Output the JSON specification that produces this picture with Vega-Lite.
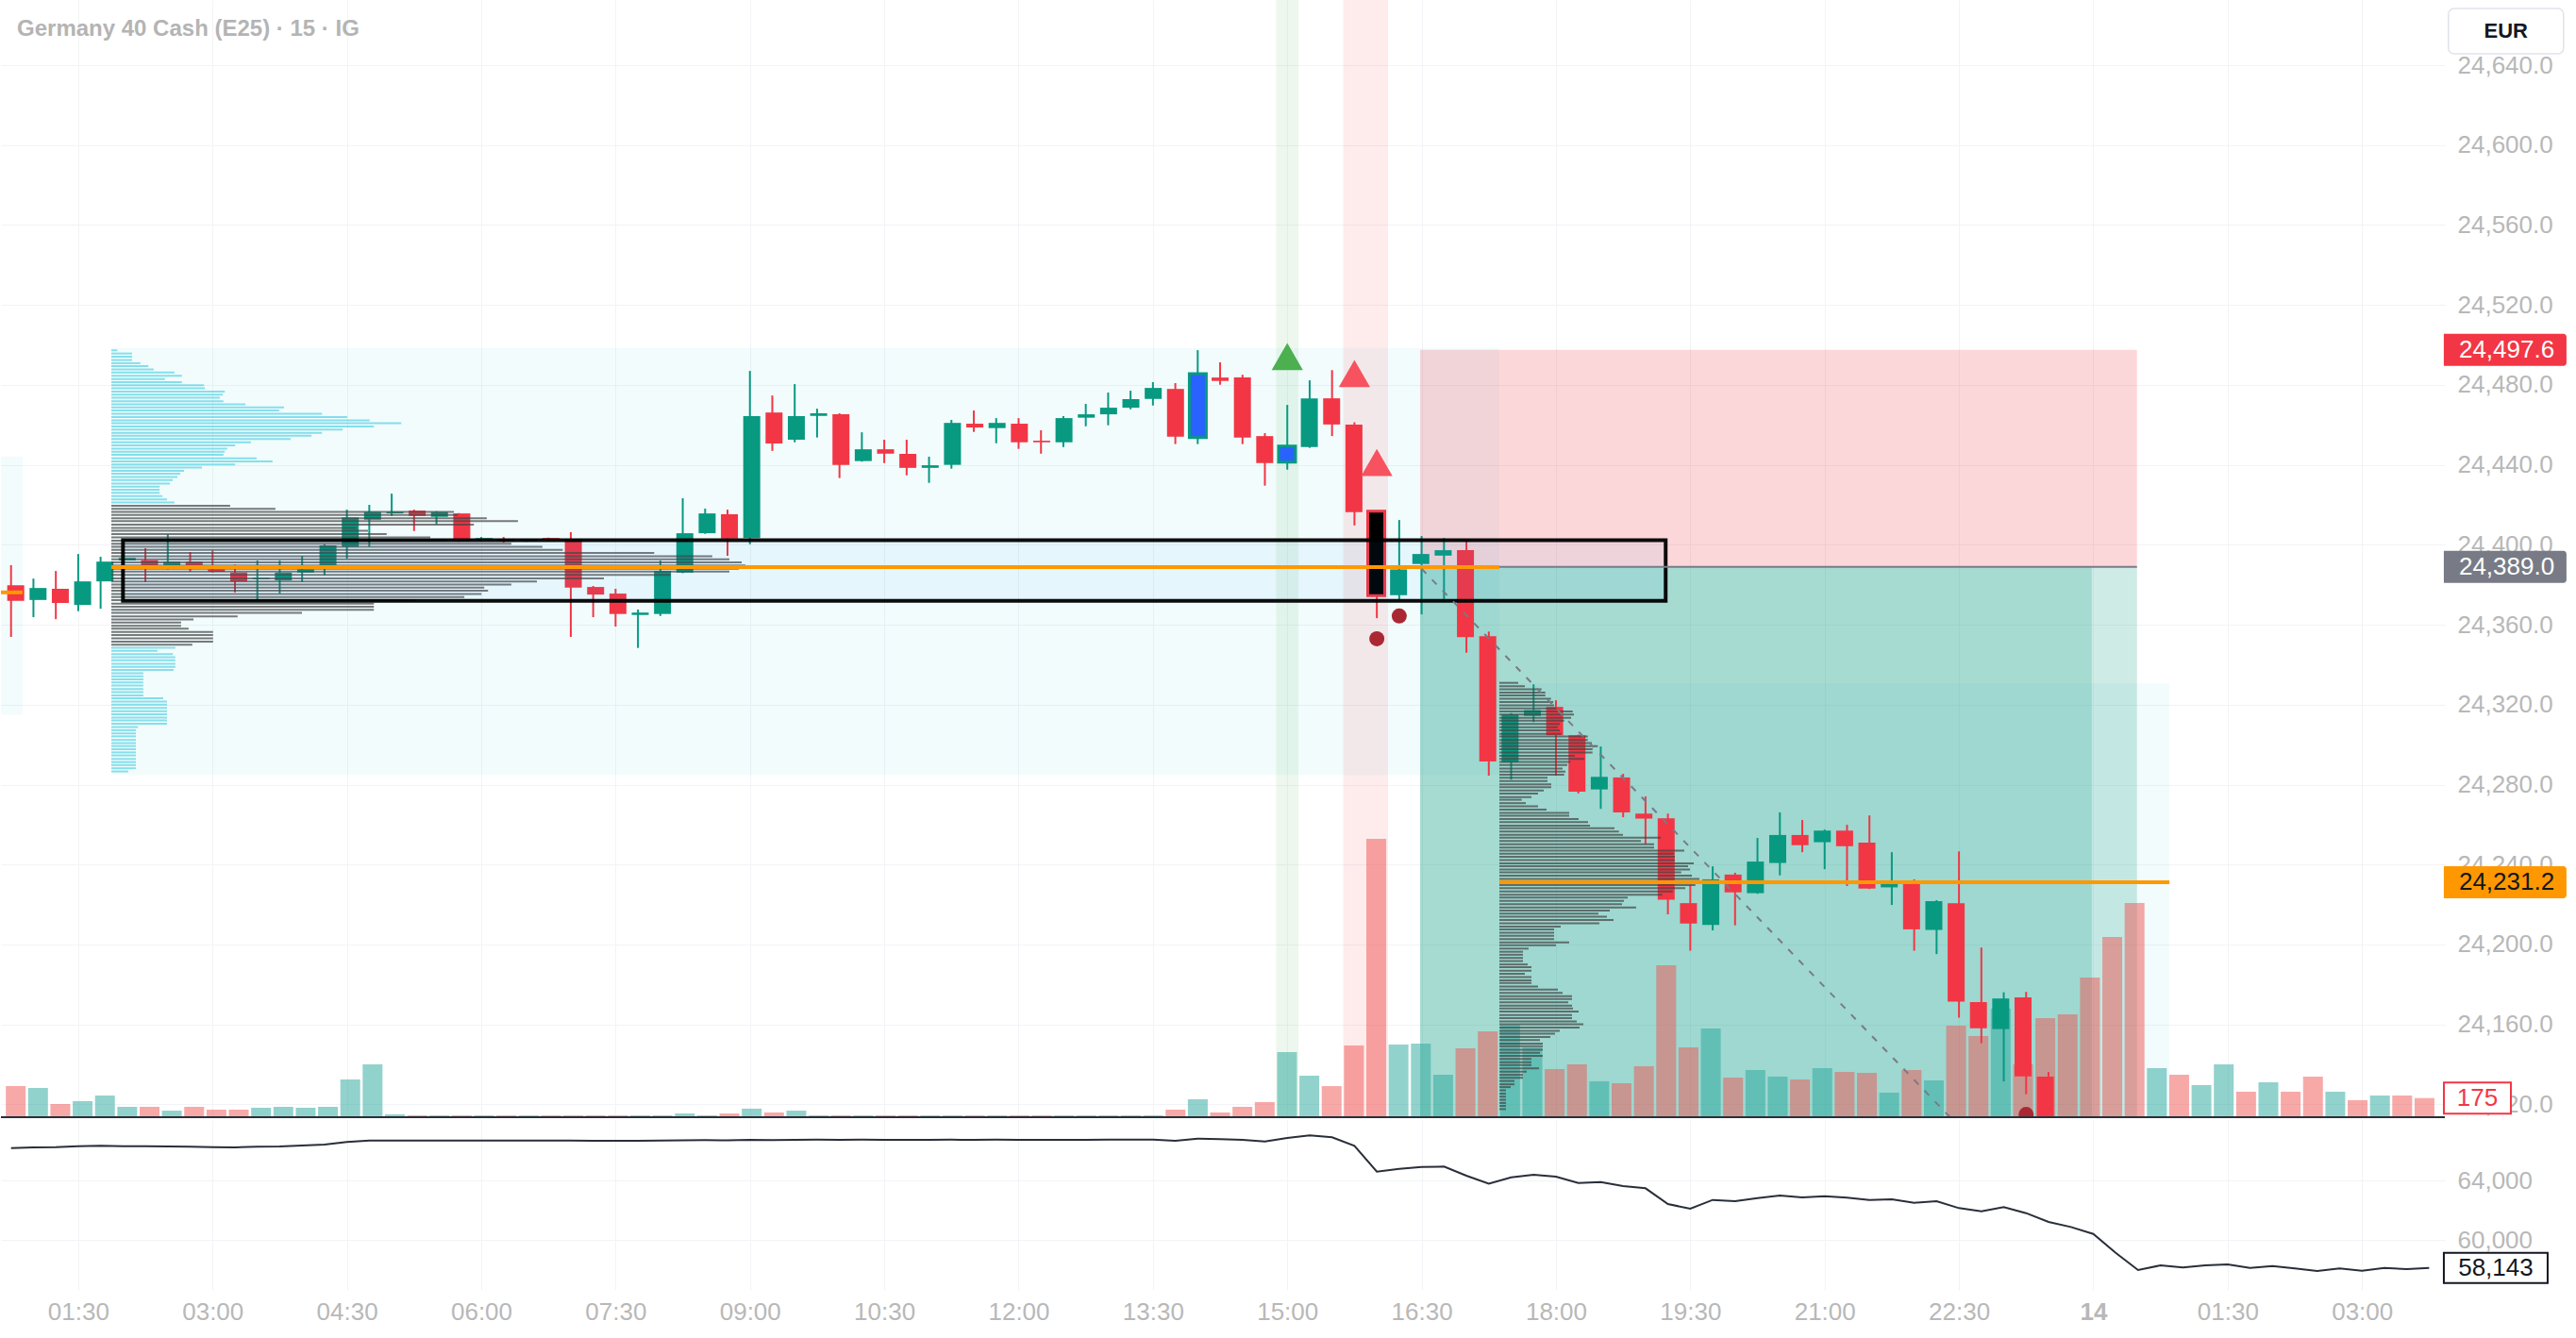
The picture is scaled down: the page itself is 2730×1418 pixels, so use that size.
{
"$schema":"https://vega.github.io/schema/vega-lite/v6.json",
"padding":0,
"background":"#ffffff",
"spacing":2,
"config":{"view":{"stroke":null},"axis":{"labelFont":"Liberation Sans","labelFontSize":26,"labelColor":"#b8b8b8","ticks":false,"domain":false,"gridColor":"#f2f3f6","labelFlush":false}},
"datasets":{
"bars":[
{"t":"2025-06-13T00:45","o":24379.8,"h":24389.8,"l":24353.9,"c":24372.0,"v":284,"dir":"down","ind":66170},
{"t":"2025-06-13T01:00","o":24372.4,"h":24383.1,"l":24363.8,"c":24378.4,"v":267,"dir":"up","ind":66213},
{"t":"2025-06-13T01:15","o":24378.0,"h":24386.9,"l":24362.8,"c":24370.9,"v":121,"dir":"down","ind":66234},
{"t":"2025-06-13T01:30","o":24369.9,"h":24395.4,"l":24366.8,"c":24381.7,"v":147,"dir":"up","ind":66297},
{"t":"2025-06-13T01:45","o":24381.7,"h":24394.0,"l":24368.0,"c":24391.6,"v":198,"dir":"up","ind":66318},
{"t":"2025-06-13T02:00","o":24392.2,"h":24396.4,"l":24381.4,"c":24393.4,"v":95,"dir":"up","ind":66297},
{"t":"2025-06-13T02:15","o":24392.3,"h":24398.3,"l":24381.4,"c":24389.8,"v":95,"dir":"down","ind":66297},
{"t":"2025-06-13T02:30","o":24389.8,"h":24405.2,"l":24387.7,"c":24391.6,"v":60,"dir":"up","ind":66276},
{"t":"2025-06-13T02:45","o":24391.6,"h":24396.4,"l":24386.5,"c":24389.8,"v":95,"dir":"down","ind":66255},
{"t":"2025-06-13T03:00","o":24387.7,"h":24397.2,"l":24386.1,"c":24386.5,"v":69,"dir":"down","ind":66234},
{"t":"2025-06-13T03:15","o":24386.1,"h":24390.1,"l":24376.2,"c":24381.7,"v":69,"dir":"down","ind":66213},
{"t":"2025-06-13T03:30","o":24382.8,"h":24392.1,"l":24372.8,"c":24383.5,"v":86,"dir":"up","ind":66255},
{"t":"2025-06-13T03:45","o":24382.2,"h":24392.1,"l":24375.6,"c":24386.1,"v":95,"dir":"up","ind":66276},
{"t":"2025-06-13T04:00","o":24386.1,"h":24394.3,"l":24381.4,"c":24387.7,"v":86,"dir":"up","ind":66339},
{"t":"2025-06-13T04:15","o":24389.8,"h":24400.3,"l":24384.9,"c":24399.7,"v":95,"dir":"up","ind":66402},
{"t":"2025-06-13T04:30","o":24399.0,"h":24417.6,"l":24393.1,"c":24413.7,"v":345,"dir":"up","ind":66571},
{"t":"2025-06-13T04:45","o":24412.6,"h":24420.0,"l":24399.0,"c":24416.5,"v":483,"dir":"up","ind":66676},
{"t":"2025-06-13T05:00","o":24415.7,"h":24425.6,"l":24414.5,"c":24416.5,"v":26,"dir":"up","ind":66676},
{"t":"2025-06-13T05:15","o":24417.1,"h":24417.6,"l":24406.9,"c":24414.5,"v":17,"dir":"down","ind":66670},
{"t":"2025-06-13T05:30","o":24414.0,"h":24416.8,"l":24410.2,"c":24416.4,"v":17,"dir":"up","ind":66676},
{"t":"2025-06-13T05:45","o":24415.7,"h":24415.9,"l":24401.5,"c":24401.6,"v":17,"dir":"down","ind":66670},
{"t":"2025-06-13T06:00","o":24402.7,"h":24403.9,"l":24401.9,"c":24403.4,"v":17,"dir":"up","ind":66676},
{"t":"2025-06-13T06:15","o":24403.0,"h":24403.9,"l":24401.1,"c":24401.7,"v":17,"dir":"down","ind":66670},
{"t":"2025-06-13T06:30","o":24401.7,"h":24403.0,"l":24401.5,"c":24403.0,"v":17,"dir":"up","ind":66676},
{"t":"2025-06-13T06:45","o":24403.4,"h":24403.6,"l":24401.6,"c":24402.5,"v":17,"dir":"down","ind":66670},
{"t":"2025-06-13T07:00","o":24403.0,"h":24406.3,"l":24353.9,"c":24378.6,"v":17,"dir":"down","ind":66664},
{"t":"2025-06-13T07:15","o":24378.9,"h":24379.4,"l":24363.8,"c":24375.1,"v":17,"dir":"down","ind":66660},
{"t":"2025-06-13T07:30","o":24375.6,"h":24378.0,"l":24359.1,"c":24365.4,"v":17,"dir":"down","ind":66656},
{"t":"2025-06-13T07:45","o":24364.9,"h":24367.6,"l":24348.4,"c":24366.1,"v":17,"dir":"up","ind":66662},
{"t":"2025-06-13T08:00","o":24365.4,"h":24392.1,"l":24364.4,"c":24386.9,"v":17,"dir":"up","ind":66668},
{"t":"2025-06-13T08:15","o":24386.1,"h":24423.3,"l":24385.8,"c":24405.8,"v":34,"dir":"up","ind":66690},
{"t":"2025-06-13T08:30","o":24405.8,"h":24418.1,"l":24405.5,"c":24415.7,"v":17,"dir":"up","ind":66700},
{"t":"2025-06-13T08:45","o":24415.3,"h":24417.6,"l":24394.5,"c":24403.1,"v":34,"dir":"down","ind":66680},
{"t":"2025-06-13T09:00","o":24403.4,"h":24487.0,"l":24400.3,"c":24464.4,"v":78,"dir":"up","ind":66720},
{"t":"2025-06-13T09:15","o":24466.2,"h":24474.7,"l":24447.0,"c":24450.7,"v":43,"dir":"down","ind":66700},
{"t":"2025-06-13T09:30","o":24452.6,"h":24480.4,"l":24451.3,"c":24464.4,"v":60,"dir":"up","ind":66720},
{"t":"2025-06-13T09:45","o":24464.5,"h":24468.1,"l":24453.7,"c":24465.8,"v":17,"dir":"up","ind":66726},
{"t":"2025-06-13T10:00","o":24465.3,"h":24465.8,"l":24433.4,"c":24440.0,"v":17,"dir":"down","ind":66720},
{"t":"2025-06-13T10:15","o":24441.9,"h":24456.3,"l":24441.6,"c":24447.8,"v":17,"dir":"up","ind":66726},
{"t":"2025-06-13T10:30","o":24447.8,"h":24452.6,"l":24440.9,"c":24445.6,"v":17,"dir":"down","ind":66720},
{"t":"2025-06-13T10:45","o":24445.5,"h":24452.6,"l":24434.8,"c":24438.5,"v":17,"dir":"down","ind":66714},
{"t":"2025-06-13T11:00","o":24438.5,"h":24444.1,"l":24431.0,"c":24439.8,"v":17,"dir":"up","ind":66720},
{"t":"2025-06-13T11:15","o":24440.0,"h":24462.5,"l":24438.1,"c":24461.0,"v":17,"dir":"up","ind":66726},
{"t":"2025-06-13T11:30","o":24460.6,"h":24467.2,"l":24456.5,"c":24458.7,"v":17,"dir":"down","ind":66720},
{"t":"2025-06-13T11:45","o":24458.4,"h":24463.4,"l":24450.8,"c":24461.0,"v":17,"dir":"up","ind":66726},
{"t":"2025-06-13T12:00","o":24460.6,"h":24463.4,"l":24448.0,"c":24451.3,"v":17,"dir":"down","ind":66720},
{"t":"2025-06-13T12:15","o":24452.1,"h":24457.3,"l":24445.6,"c":24451.3,"v":17,"dir":"down","ind":66714},
{"t":"2025-06-13T12:30","o":24451.3,"h":24464.4,"l":24448.9,"c":24463.4,"v":17,"dir":"up","ind":66720},
{"t":"2025-06-13T12:45","o":24463.6,"h":24470.5,"l":24459.3,"c":24465.3,"v":17,"dir":"up","ind":66724},
{"t":"2025-06-13T13:00","o":24465.3,"h":24476.2,"l":24459.8,"c":24468.6,"v":17,"dir":"up","ind":66728},
{"t":"2025-06-13T13:15","o":24468.6,"h":24477.1,"l":24467.8,"c":24472.9,"v":17,"dir":"up","ind":66732},
{"t":"2025-06-13T13:30","o":24473.0,"h":24481.4,"l":24469.7,"c":24478.5,"v":17,"dir":"up","ind":66736},
{"t":"2025-06-13T13:45","o":24478.0,"h":24480.9,"l":24450.4,"c":24454.1,"v":69,"dir":"down","ind":66655},
{"t":"2025-06-13T14:00","o":24453.7,"h":24497.4,"l":24450.4,"c":24485.6,"v":164,"dir":"up","hl":"buy","ind":66803},
{"t":"2025-06-13T14:15","o":24483.7,"h":24491.3,"l":24480.1,"c":24482.0,"v":43,"dir":"down","ind":66761},
{"t":"2025-06-13T14:30","o":24483.7,"h":24485.1,"l":24450.4,"c":24453.7,"v":95,"dir":"down","ind":66719},
{"t":"2025-06-13T14:45","o":24454.4,"h":24455.9,"l":24429.6,"c":24440.9,"v":138,"dir":"down","ind":66613},
{"t":"2025-06-13T15:00","o":24441.4,"h":24470.0,"l":24437.6,"c":24449.4,"v":595,"dir":"up","hl":"buy","ind":66845},
{"t":"2025-06-13T15:15","o":24448.9,"h":24482.3,"l":24448.5,"c":24473.3,"v":379,"dir":"up","ind":67013},
{"t":"2025-06-13T15:30","o":24473.3,"h":24487.4,"l":24454.4,"c":24460.2,"v":284,"dir":"down","ind":66887},
{"t":"2025-06-13T15:45","o":24460.1,"h":24461.3,"l":24409.7,"c":24416.3,"v":655,"dir":"down","ind":66318},
{"t":"2025-06-13T16:00","o":24416.8,"h":24417.2,"l":24363.3,"c":24374.6,"v":2543,"dir":"down","hl":"sell","ind":64590},
{"t":"2025-06-13T16:15","o":24374.8,"h":24412.4,"l":24372.7,"c":24387.7,"v":664,"dir":"up","ind":64780},
{"t":"2025-06-13T16:30","o":24390.4,"h":24404.4,"l":24365.2,"c":24395.4,"v":672,"dir":"up","ind":64906},
{"t":"2025-06-13T16:45","o":24394.6,"h":24403.4,"l":24371.5,"c":24397.3,"v":388,"dir":"up","ind":64927},
{"t":"2025-06-13T17:00","o":24397.3,"h":24402.0,"l":24346.0,"c":24353.8,"v":629,"dir":"down","ind":64316},
{"t":"2025-06-13T17:15","o":24354.3,"h":24356.6,"l":24284.5,"c":24291.6,"v":784,"dir":"down","ind":63789},
{"t":"2025-06-13T17:30","o":24291.2,"h":24315.8,"l":24282.5,"c":24315.1,"v":845,"dir":"up","ind":64210},
{"t":"2025-06-13T17:45","o":24314.4,"h":24330.2,"l":24311.3,"c":24317.3,"v":638,"dir":"up","ind":64379},
{"t":"2025-06-13T18:00","o":24318.9,"h":24322.2,"l":24284.5,"c":24304.7,"v":440,"dir":"down","ind":64253},
{"t":"2025-06-13T18:15","o":24304.7,"h":24305.0,"l":24275.6,"c":24276.5,"v":483,"dir":"down","ind":63831},
{"t":"2025-06-13T18:30","o":24277.6,"h":24299.1,"l":24267.9,"c":24283.9,"v":328,"dir":"up","ind":63894},
{"t":"2025-06-13T18:45","o":24283.6,"h":24285.4,"l":24263.7,"c":24266.1,"v":310,"dir":"down","ind":63620},
{"t":"2025-06-13T19:00","o":24265.5,"h":24274.1,"l":24250.3,"c":24263.0,"v":465,"dir":"down","ind":63473},
{"t":"2025-06-13T19:15","o":24263.2,"h":24265.5,"l":24215.1,"c":24222.4,"v":1388,"dir":"down","ind":62419},
{"t":"2025-06-13T19:30","o":24220.7,"h":24229.7,"l":24196.9,"c":24210.5,"v":638,"dir":"down","ind":62103},
{"t":"2025-06-13T19:45","o":24209.8,"h":24239.1,"l":24207.1,"c":24232.6,"v":810,"dir":"up","ind":62693},
{"t":"2025-06-13T20:00","o":24235.0,"h":24235.9,"l":24209.6,"c":24226.1,"v":362,"dir":"down","ind":62609},
{"t":"2025-06-13T20:15","o":24225.7,"h":24253.3,"l":24225.4,"c":24241.5,"v":431,"dir":"up","ind":62820},
{"t":"2025-06-13T20:30","o":24240.8,"h":24266.1,"l":24234.6,"c":24254.8,"v":371,"dir":"up","ind":62988},
{"t":"2025-06-13T20:45","o":24254.8,"h":24262.3,"l":24246.2,"c":24249.7,"v":345,"dir":"down","ind":62862},
{"t":"2025-06-13T21:00","o":24251.2,"h":24257.5,"l":24237.7,"c":24257.0,"v":448,"dir":"up","ind":62946},
{"t":"2025-06-13T21:15","o":24257.0,"h":24259.9,"l":24229.3,"c":24249.2,"v":414,"dir":"down","ind":62840},
{"t":"2025-06-13T21:30","o":24251.0,"h":24264.6,"l":24227.8,"c":24228.0,"v":405,"dir":"down","ind":62693},
{"t":"2025-06-13T21:45","o":24228.6,"h":24246.2,"l":24219.8,"c":24231.9,"v":224,"dir":"up","ind":62735},
{"t":"2025-06-13T22:00","o":24230.4,"h":24232.6,"l":24196.9,"c":24207.6,"v":431,"dir":"down","ind":62503},
{"t":"2025-06-13T22:15","o":24207.3,"h":24222.2,"l":24195.2,"c":24221.7,"v":336,"dir":"up","ind":62609},
{"t":"2025-06-13T22:30","o":24220.7,"h":24246.6,"l":24163.4,"c":24171.4,"v":836,"dir":"down","ind":62145},
{"t":"2025-06-13T22:45","o":24171.2,"h":24198.5,"l":24150.6,"c":24158.1,"v":741,"dir":"down","ind":61935},
{"t":"2025-06-13T23:00","o":24157.7,"h":24176.1,"l":24131.5,"c":24173.0,"v":991,"dir":"up","ind":62208},
{"t":"2025-06-13T23:15","o":24173.6,"h":24176.3,"l":24125.1,"c":24134.0,"v":483,"dir":"down","ind":61808},
{"t":"2025-06-13T23:30","o":24133.9,"h":24136.2,"l":24088.0,"c":24098.0,"v":905,"dir":"down","ind":61218},
{"t":"2025-06-13T23:45","v":939,"dir":"down","ind":60881},
{"t":"2025-06-14T00:00","v":1276,"dir":"down","ind":60418},
{"t":"2025-06-14T00:15","v":1646,"dir":"down","ind":59154},
{"t":"2025-06-14T00:30","v":1957,"dir":"down","ind":57995},
{"t":"2025-06-14T00:45","v":448,"dir":"up","ind":58311},
{"t":"2025-06-14T01:00","v":388,"dir":"down","ind":58164},
{"t":"2025-06-14T01:15","v":293,"dir":"up","ind":58311},
{"t":"2025-06-14T01:30","v":483,"dir":"up","ind":58374},
{"t":"2025-06-14T01:45","v":233,"dir":"down","ind":58143},
{"t":"2025-06-14T02:00","v":319,"dir":"up","ind":58269},
{"t":"2025-06-14T02:15","v":233,"dir":"down","ind":58101},
{"t":"2025-06-14T02:30","v":371,"dir":"down","ind":57932},
{"t":"2025-06-14T02:45","v":233,"dir":"up","ind":58101},
{"t":"2025-06-14T03:00","v":155,"dir":"down","ind":57953},
{"t":"2025-06-14T03:15","v":198,"dir":"up","ind":58143},
{"t":"2025-06-14T03:30","v":198,"dir":"down","ind":58060},
{"t":"2025-06-14T03:45","v":175,"dir":"down","ind":58143}
],
"vpL":[
{"p":24498.2,"v":6.2,"area":"out"},{"p":24496.6,"v":22,"area":"out"},{"p":24495.0,"v":22,"area":"out"},{"p":24493.3,"v":22,"area":"out"},{"p":24491.7,"v":30.8,"area":"out"},{"p":24490.2,"v":39.2,"area":"out"},{"p":24488.6,"v":44.9,"area":"out"},{"p":24487.0,"v":66.9,"area":"out"},{"p":24485.3,"v":74.8,"area":"out"},{"p":24483.7,"v":56.8,"area":"out"},{"p":24482.1,"v":74.8,"area":"out"},{"p":24480.6,"v":98.2,"area":"out"},{"p":24479.0,"v":99.1,"area":"out"},{"p":24477.4,"v":120.2,"area":"out"},{"p":24475.8,"v":118,"area":"out"},{"p":24474.3,"v":114.9,"area":"out"},{"p":24472.5,"v":118.8,"area":"out"},{"p":24470.9,"v":142.2,"area":"out"},{"p":24469.4,"v":183.1,"area":"out"},{"p":24467.8,"v":177.8,"area":"out"},{"p":24466.2,"v":223.2,"area":"out"},{"p":24464.5,"v":250,"area":"out"},{"p":24462.9,"v":273.8,"area":"out"},{"p":24461.4,"v":307.2,"area":"out"},{"p":24459.8,"v":278.2,"area":"out"},{"p":24458.2,"v":245.2,"area":"out"},{"p":24456.6,"v":223.2,"area":"out"},{"p":24455.1,"v":212.1,"area":"out"},{"p":24453.5,"v":190.1,"area":"out"},{"p":24451.8,"v":147.9,"area":"out"},{"p":24450.2,"v":131.2,"area":"out"},{"p":24448.6,"v":122.8,"area":"out"},{"p":24447.0,"v":120.2,"area":"out"},{"p":24445.5,"v":118.8,"area":"out"},{"p":24443.7,"v":154,"area":"out"},{"p":24442.2,"v":170.8,"area":"out"},{"p":24440.6,"v":131.2,"area":"out"},{"p":24439.0,"v":96,"area":"out"},{"p":24437.4,"v":77,"area":"out"},{"p":24435.9,"v":73,"area":"out"},{"p":24434.3,"v":70,"area":"out"},{"p":24432.7,"v":65.1,"area":"out"},{"p":24431.0,"v":62.1,"area":"out"},{"p":24429.4,"v":51.1,"area":"out"},{"p":24427.8,"v":51.1,"area":"out"},{"p":24426.3,"v":51.1,"area":"out"},{"p":24424.7,"v":54.1,"area":"out"},{"p":24423.0,"v":59,"area":"out"},{"p":24421.4,"v":66.9,"area":"out"},
{"p":24419.8,"v":125.9,"area":"va"},{"p":24418.2,"v":173.9,"area":"va"},{"p":24416.7,"v":363.1,"area":"va"},{"p":24415.1,"v":367.1,"area":"va"},{"p":24413.5,"v":397.9,"area":"va"},{"p":24412.0,"v":430.9,"area":"va"},{"p":24410.2,"v":384.2,"area":"va"},{"p":24408.6,"v":260,"area":"va"},{"p":24407.1,"v":272,"area":"va"},{"p":24405.5,"v":291.8,"area":"va"},{"p":24403.8,"v":338,"area":"va"},{"p":24402.2,"v":356,"area":"va"},{"p":24400.6,"v":423.9,"area":"va"},{"p":24399.0,"v":456.9,"area":"va"},{"p":24397.5,"v":478.4,"area":"va"},{"p":24395.9,"v":575.3,"area":"va"},{"p":24394.3,"v":636.9,"area":"va"},{"p":24392.7,"v":655,"area":"va"},{"p":24391.2,"v":668,"area":"va"},{"p":24389.6,"v":672,"area":"va"},{"p":24388.0,"v":665,"area":"va"},{"p":24386.5,"v":655,"area":"va"},{"p":24384.9,"v":592.9,"area":"va"},{"p":24383.1,"v":522,"area":"va"},{"p":24381.6,"v":451,"area":"va"},{"p":24380.0,"v":423.9,"area":"va"},{"p":24378.4,"v":395.2,"area":"va"},{"p":24376.9,"v":399.2,"area":"va"},{"p":24375.3,"v":392.2,"area":"va"},{"p":24373.7,"v":374.1,"area":"va"},{"p":24372.1,"v":322.2,"area":"va"},{"p":24370.4,"v":278.2,"area":"va"},{"p":24368.8,"v":278.2,"area":"va"},{"p":24367.3,"v":278.2,"area":"va"},{"p":24365.7,"v":202,"area":"va"},{"p":24363.9,"v":133.8,"area":"va"},{"p":24362.4,"v":87.1,"area":"va"},{"p":24360.8,"v":73.9,"area":"va"},{"p":24359.2,"v":73.9,"area":"va"},{"p":24357.7,"v":81.9,"area":"va"},{"p":24356.1,"v":107.8,"area":"va"},{"p":24354.5,"v":107.8,"area":"va"},{"p":24352.9,"v":107.8,"area":"va"},{"p":24351.2,"v":107.8,"area":"va"},{"p":24349.6,"v":85.8,"area":"va"},
{"p":24348.1,"v":67.8,"area":"out"},{"p":24346.5,"v":48.9,"area":"out"},{"p":24344.9,"v":65.1,"area":"out"},{"p":24343.3,"v":67.8,"area":"out"},{"p":24341.8,"v":67.8,"area":"out"},{"p":24340.0,"v":67.8,"area":"out"},{"p":24338.5,"v":67.8,"area":"out"},{"p":24336.9,"v":66,"area":"out"},{"p":24335.3,"v":33.9,"area":"out"},{"p":24333.7,"v":33.9,"area":"out"},{"p":24332.2,"v":33.9,"area":"out"},{"p":24330.6,"v":33.9,"area":"out"},{"p":24329.0,"v":33.9,"area":"out"},{"p":24327.3,"v":33.9,"area":"out"},{"p":24325.7,"v":33.9,"area":"out"},{"p":24324.1,"v":33.9,"area":"out"},{"p":24322.6,"v":55,"area":"out"},{"p":24321.0,"v":59,"area":"out"},{"p":24319.4,"v":59,"area":"out"},{"p":24317.7,"v":59,"area":"out"},{"p":24316.1,"v":59,"area":"out"},{"p":24314.5,"v":59,"area":"out"},{"p":24312.9,"v":59,"area":"out"},{"p":24311.4,"v":59,"area":"out"},{"p":24309.8,"v":59,"area":"out"},{"p":24308.1,"v":28.2,"area":"out"},{"p":24306.5,"v":26,"area":"out"},{"p":24304.9,"v":26,"area":"out"},{"p":24303.4,"v":26,"area":"out"},{"p":24301.6,"v":26,"area":"out"},{"p":24300.0,"v":26,"area":"out"},{"p":24298.5,"v":26,"area":"out"},{"p":24296.9,"v":26,"area":"out"},{"p":24295.3,"v":26,"area":"out"},{"p":24293.8,"v":26,"area":"out"},{"p":24292.0,"v":26,"area":"out"},{"p":24290.4,"v":26,"area":"out"},{"p":24288.9,"v":26,"area":"out"},{"p":24287.3,"v":26,"area":"out"},{"p":24285.7,"v":18,"area":"out"}
],
"vpR":[
{"p":24330.4,"v":20},{"p":24328.7,"v":27},{"p":24327.1,"v":44.7},{"p":24325.5,"v":48.7},{"p":24324.0,"v":48.7},{"p":24322.4,"v":54.7},{"p":24320.7,"v":57},{"p":24319.1,"v":58},{"p":24317.5,"v":60.7},{"p":24316.0,"v":77.7},{"p":24314.4,"v":79},{"p":24312.7,"v":76},{"p":24311.3,"v":68.7},{"p":24309.6,"v":64},{"p":24308.0,"v":62},{"p":24306.4,"v":64},{"p":24304.7,"v":65.3},{"p":24303.3,"v":93.7},{"p":24301.6,"v":93.7},{"p":24300.0,"v":98},{"p":24298.5,"v":104.3},{"p":24296.9,"v":98.7},{"p":24295.2,"v":98.7},{"p":24293.6,"v":80},{"p":24292.0,"v":90},{"p":24290.5,"v":75.3},{"p":24288.9,"v":72},{"p":24287.2,"v":67},{"p":24285.6,"v":70},{"p":24284.1,"v":68.7},{"p":24282.5,"v":51},{"p":24280.8,"v":51},{"p":24279.2,"v":55},{"p":24277.8,"v":55},{"p":24276.1,"v":47},{"p":24274.5,"v":41},{"p":24272.8,"v":34},{"p":24271.4,"v":23.7},{"p":24269.7,"v":28},{"p":24268.1,"v":41},{"p":24266.5,"v":50},{"p":24264.8,"v":74},{"p":24263.4,"v":74},{"p":24261.7,"v":84},{"p":24260.1,"v":94},{"p":24258.4,"v":96},{"p":24257.0,"v":122},{"p":24255.4,"v":126.7},{"p":24253.7,"v":131},{"p":24252.3,"v":171},{"p":24250.6,"v":150},{"p":24249.0,"v":164},{"p":24247.3,"v":164},{"p":24245.7,"v":196},{"p":24244.2,"v":185.3},{"p":24242.6,"v":186},{"p":24241.0,"v":186},{"p":24239.3,"v":206},{"p":24237.9,"v":200},{"p":24236.2,"v":202},{"p":24234.8,"v":192.7},{"p":24233.1,"v":204},{"p":24231.5,"v":212},{"p":24229.9,"v":202},{"p":24228.4,"v":207.7},{"p":24226.8,"v":197},{"p":24225.1,"v":183.7},{"p":24223.5,"v":172.7},{"p":24222.0,"v":136},{"p":24220.4,"v":132},{"p":24218.7,"v":130},{"p":24217.1,"v":145},{"p":24215.5,"v":117},{"p":24214.0,"v":105},{"p":24212.4,"v":114},{"p":24210.7,"v":121},{"p":24209.1,"v":106},{"p":24207.4,"v":65},{"p":24206.0,"v":58},{"p":24204.3,"v":58},{"p":24202.7,"v":58},{"p":24201.1,"v":58},{"p":24199.4,"v":74},{"p":24198.0,"v":60},{"p":24196.3,"v":31},{"p":24194.7,"v":25},{"p":24193.2,"v":25},{"p":24191.6,"v":25},{"p":24190.0,"v":25},{"p":24188.3,"v":30},{"p":24186.9,"v":34},{"p":24185.2,"v":34},{"p":24183.6,"v":27},{"p":24181.9,"v":34},{"p":24180.3,"v":34},{"p":24178.9,"v":34},{"p":24177.2,"v":41},{"p":24175.6,"v":62},{"p":24173.9,"v":67},{"p":24172.3,"v":77},{"p":24170.8,"v":77},{"p":24169.2,"v":73},{"p":24167.5,"v":77},{"p":24166.1,"v":78},{"p":24164.5,"v":84},{"p":24162.8,"v":77},{"p":24161.2,"v":77},{"p":24159.5,"v":82},{"p":24158.1,"v":89},{"p":24156.5,"v":85},{"p":24154.8,"v":64},{"p":24153.3,"v":59},{"p":24151.7,"v":54},{"p":24150.1,"v":43},{"p":24148.4,"v":46},{"p":24147.0,"v":46},{"p":24145.3,"v":46},{"p":24143.7,"v":43},{"p":24142.2,"v":46},{"p":24140.6,"v":34},{"p":24139.0,"v":34},{"p":24137.5,"v":34},{"p":24135.9,"v":42},{"p":24134.2,"v":29},{"p":24132.6,"v":25},{"p":24131.1,"v":25},{"p":24129.5,"v":16},{"p":24127.8,"v":16},{"p":24126.4,"v":12},{"p":24124.8,"v":7},{"p":24123.1,"v":7},{"p":24121.6,"v":7},{"p":24120.0,"v":7},{"p":24118.4,"v":7},{"p":24116.9,"v":7},{"p":24115.3,"v":7}
],
"zones":[
{"kind":"profile","t1":"2025-06-13T00:38:14","t2":"2025-06-13T00:52:45","p1":24315.1,"p2":24444.1},
{"kind":"profile","t1":"2025-06-13T01:52:12","t2":"2025-06-13T17:22:00","p1":24284.9,"p2":24498.5},
{"kind":"profile","t1":"2025-06-13T17:22:00","t2":"2025-06-14T00:51:00","p1":24113.6,"p2":24330.7},
{"kind":"buyband","t1":"2025-06-13T14:52:30","t2":"2025-06-13T15:07:30","p1":24113.6,"p2":24672.6},
{"kind":"sellband","t1":"2025-06-13T15:37:30","t2":"2025-06-13T16:07:30","p1":24113.6,"p2":24672.6},
{"kind":"stop","t1":"2025-06-13T16:29:00","t2":"2025-06-14T00:29:15","p1":24389.0,"p2":24497.6},
{"kind":"target","t1":"2025-06-13T16:29:00","t2":"2025-06-14T00:29:15","p1":24050,"p2":24389.0},
{"kind":"target","t1":"2025-06-13T16:29:00","t2":"2025-06-13T23:59:00","p1":24050,"p2":24389.0}
],
"lines":[
{"kind":"entry","t1":"2025-06-13T16:29:00","t2":"2025-06-14T00:29:15","p":24389.0},
{"kind":"poc","t1":"2025-06-13T00:38:14","t2":"2025-06-13T00:52:45","p":24376.2},
{"kind":"poc","t1":"2025-06-13T01:52:12","t2":"2025-06-13T17:22:00","p":24388.8},
{"kind":"poc","t1":"2025-06-13T17:22:00","t2":"2025-06-14T00:51:00","p":24231.2}
],
"boxes":[{"t1":"2025-06-13T02:00:00","t2":"2025-06-13T19:13:30","p1":24372.0,"p2":24402.3}],
"trend":[{"t":"2025-06-13T16:30:00","p":24388},{"t":"2025-06-13T22:30:00","p":24109}],
"signals":[{"t":"2025-06-13T15:00:00","p":24494.2,"kind":"buy"},{"t":"2025-06-13T15:45:00","p":24485.7,"kind":"sell"},{"t":"2025-06-13T16:00:00","p":24441.2,"kind":"sell"}],
"dots":[{"t":"2025-06-13T16:00:00","p":24353.0},{"t":"2025-06-13T16:15:00","p":24364.4},{"t":"2025-06-13T23:15:00","p":24115.0}],
"levels":[{"name":"stop","p":24497.6},{"name":"entry","p":24389.0},{"name":"poc","p":24231.2}],
"currency":[{"label":"EUR"}],
"heading":[{"label":"Germany 40 Cash (E25) · 15 · IG"}]
},
"vconcat":[
{
"width":2590,"height":1184,
"resolve":{"scale":{"x":"independent","y":"independent"}},
"layer":[
{"data":{"name":"zones"},"mark":{"type":"rect","clip":true},
"encoding":{
"x":{"field":"t1","type":"temporal","scale":{"domain":[{"year":2025,"month":6,"date":13,"hours":0,"minutes":38,"seconds":14},{"year":2025,"month":6,"date":14,"hours":3,"minutes":55,"seconds":30}],"nice":false},
"axis":{"grid":true,"labels":false,"title":null,"values":[{"year":2025,"month":6,"date":13,"hours":1,"minutes":30},{"year":2025,"month":6,"date":13,"hours":3,"minutes":0},{"year":2025,"month":6,"date":13,"hours":4,"minutes":30},{"year":2025,"month":6,"date":13,"hours":6,"minutes":0},{"year":2025,"month":6,"date":13,"hours":7,"minutes":30},{"year":2025,"month":6,"date":13,"hours":9,"minutes":0},{"year":2025,"month":6,"date":13,"hours":10,"minutes":30},{"year":2025,"month":6,"date":13,"hours":12,"minutes":0},{"year":2025,"month":6,"date":13,"hours":13,"minutes":30},{"year":2025,"month":6,"date":13,"hours":15,"minutes":0},{"year":2025,"month":6,"date":13,"hours":16,"minutes":30},{"year":2025,"month":6,"date":13,"hours":18,"minutes":0},{"year":2025,"month":6,"date":13,"hours":19,"minutes":30},{"year":2025,"month":6,"date":13,"hours":21,"minutes":0},{"year":2025,"month":6,"date":13,"hours":22,"minutes":30},{"year":2025,"month":6,"date":14,"hours":0,"minutes":0},{"year":2025,"month":6,"date":14,"hours":1,"minutes":30},{"year":2025,"month":6,"date":14,"hours":3,"minutes":0}]}},
"x2":{"field":"t2"},
"y":{"field":"p1","type":"quantitative","scale":{"domain":[24113.6,24672.6],"nice":false,"zero":false},"axis":null},
"y2":{"field":"p2"},
"color":{"condition":[{"test":"datum.kind==='profile'","value":"rgba(0,188,212,0.05)"},{"test":"datum.kind==='buyband'","value":"rgba(76,175,80,0.1)"},{"test":"datum.kind==='sellband'","value":"rgba(242,54,69,0.1)"},{"test":"datum.kind==='stop'","value":"rgba(242,54,69,0.2)"}],"value":"rgba(8,153,129,0.2)"}
}},
{"data":{"name":"bars"},"mark":{"type":"bar","width":21,"opacity":0.5},
"encoding":{
"x":{"field":"t","type":"temporal","scale":{"domain":[{"year":2025,"month":6,"date":13,"hours":0,"minutes":38,"seconds":14},{"year":2025,"month":6,"date":14,"hours":3,"minutes":55,"seconds":30}],"nice":false},"axis":null},
"y":{"field":"v","type":"quantitative","scale":{"domain":[0,10207],"nice":false},"axis":null,"stack":null},
"color":{"condition":{"test":"datum.dir==='up'","value":"#26a69a"},"value":"#ef5350"}
}},
{"data":{"name":"bars"},"transform":[{"filter":"isValid(datum.o)"}],"mark":{"type":"rule","strokeWidth":2,"clip":true},
"encoding":{
"x":{"field":"t","type":"temporal","scale":{"domain":[{"year":2025,"month":6,"date":13,"hours":0,"minutes":38,"seconds":14},{"year":2025,"month":6,"date":14,"hours":3,"minutes":55,"seconds":30}],"nice":false},"axis":null},
"y":{"field":"l","type":"quantitative","scale":{"domain":[24113.6,24672.6],"nice":false,"zero":false},
"axis":{"orient":"right","title":null,"grid":true,"labelPadding":13,"format":",.1f","values":[24120,24160,24200,24240,24280,24320,24360,24400,24440,24480,24520,24560,24600,24640]}},
"y2":{"field":"h"},
"color":{"condition":[{"test":"datum.hl==='sell'","value":"#f23645"},{"test":"datum.dir==='up'","value":"#089981"}],"value":"#f23645"}
}},
{"data":{"name":"bars"},"transform":[{"filter":"isValid(datum.o)"}],"mark":{"type":"bar","width":18,"clip":true,"strokeWidth":3},
"encoding":{
"x":{"field":"t","type":"temporal","scale":{"domain":[{"year":2025,"month":6,"date":13,"hours":0,"minutes":38,"seconds":14},{"year":2025,"month":6,"date":14,"hours":3,"minutes":55,"seconds":30}],"nice":false},"axis":null},
"y":{"field":"o","type":"quantitative","scale":{"domain":[24113.6,24672.6],"nice":false,"zero":false},"axis":null},
"y2":{"field":"c"},
"fill":{"condition":[{"test":"datum.hl==='buy'","value":"#2962ff"},{"test":"datum.hl==='sell'","value":"#000000"},{"test":"datum.dir==='up'","value":"#089981"}],"value":"#f23645"},
"stroke":{"condition":[{"test":"datum.hl==='buy'","value":"#089981"},{"test":"datum.hl==='sell'","value":"#f23645"}],"value":"transparent"}
}},
{"data":{"name":"vpL"},"mark":{"type":"bar","orient":"horizontal","height":2},
"encoding":{
"x":{"field":"v","type":"quantitative","scale":{"domain":[-117,2473],"nice":false,"zero":false},"axis":null,"stack":null},
"y":{"field":"p","type":"quantitative","scale":{"domain":[24113.6,24672.6],"nice":false,"zero":false},"axis":null},
"color":{"condition":{"test":"datum.area==='va'","value":"rgba(66,66,66,0.7)"},"value":"rgba(0,188,212,0.45)"}
}},
{"data":{"name":"vpR"},"mark":{"type":"bar","orient":"horizontal","height":2,"color":"rgba(66,66,66,0.7)","clip":true},
"encoding":{
"x":{"field":"v","type":"quantitative","scale":{"domain":[-1588,1002],"nice":false,"zero":false},"axis":null,"stack":null},
"y":{"field":"p","type":"quantitative","scale":{"domain":[24113.6,24672.6],"nice":false,"zero":false},"axis":null}
}},
{"data":{"name":"boxes"},"mark":{"type":"rect","fill":"rgba(33,150,243,0.06)","stroke":"#000000","strokeOpacity":0.95,"strokeWidth":4},
"encoding":{
"x":{"field":"t1","type":"temporal","scale":{"domain":[{"year":2025,"month":6,"date":13,"hours":0,"minutes":38,"seconds":14},{"year":2025,"month":6,"date":14,"hours":3,"minutes":55,"seconds":30}],"nice":false},"axis":null},
"x2":{"field":"t2"},
"y":{"field":"p1","type":"quantitative","scale":{"domain":[24113.6,24672.6],"nice":false,"zero":false},"axis":null},
"y2":{"field":"p2"}
}},
{"data":{"name":"lines"},"mark":{"type":"rule","clip":true},
"encoding":{
"x":{"field":"t1","type":"temporal","scale":{"domain":[{"year":2025,"month":6,"date":13,"hours":0,"minutes":38,"seconds":14},{"year":2025,"month":6,"date":14,"hours":3,"minutes":55,"seconds":30}],"nice":false},"axis":null},
"x2":{"field":"t2"},
"y":{"field":"p","type":"quantitative","scale":{"domain":[24113.6,24672.6],"nice":false,"zero":false},"axis":null},
"color":{"condition":{"test":"datum.kind==='poc'","value":"#ff9800"},"value":"#787b86"},
"strokeWidth":{"condition":{"test":"datum.kind==='poc'","value":4},"value":2}
}},
{"data":{"name":"trend"},"mark":{"type":"line","strokeDash":[7,9],"strokeWidth":2,"color":"#787b86","clip":true},
"encoding":{
"x":{"field":"t","type":"temporal","scale":{"domain":[{"year":2025,"month":6,"date":13,"hours":0,"minutes":38,"seconds":14},{"year":2025,"month":6,"date":14,"hours":3,"minutes":55,"seconds":30}],"nice":false},"axis":null},
"y":{"field":"p","type":"quantitative","scale":{"domain":[24113.6,24672.6],"nice":false,"zero":false},"axis":null}
}},
{"data":{"name":"signals"},"mark":{"type":"point","shape":"triangle-up","filled":true,"size":1100,"opacity":1},
"encoding":{
"x":{"field":"t","type":"temporal","scale":{"domain":[{"year":2025,"month":6,"date":13,"hours":0,"minutes":38,"seconds":14},{"year":2025,"month":6,"date":14,"hours":3,"minutes":55,"seconds":30}],"nice":false},"axis":null},
"y":{"field":"p","type":"quantitative","scale":{"domain":[24113.6,24672.6],"nice":false,"zero":false},"axis":null},
"color":{"condition":{"test":"datum.kind==='buy'","value":"#4caf50"},"value":"#f7525f"}
}},
{"data":{"name":"dots"},"mark":{"type":"circle","size":256,"opacity":1,"color":"#aa2834","clip":true},
"encoding":{
"x":{"field":"t","type":"temporal","scale":{"domain":[{"year":2025,"month":6,"date":13,"hours":0,"minutes":38,"seconds":14},{"year":2025,"month":6,"date":14,"hours":3,"minutes":55,"seconds":30}],"nice":false},"axis":null},
"y":{"field":"p","type":"quantitative","scale":{"domain":[24113.6,24672.6],"nice":false,"zero":false},"axis":null}
}},
{"data":{"name":"levels"},"mark":{"type":"point","filled":true,"opacity":1,"size":16900,"shape":"M-1,-0.2615H0.95A0.05,0.05 0 0 1 1,-0.2115V0.2115A0.05,0.05 0 0 1 0.95,0.2615H-1Z"},
"encoding":{
"x":{"datum":{"year":2025,"month":6,"date":14,"hours":4,"minutes":35,"seconds":54},"type":"temporal","scale":{"domain":[{"year":2025,"month":6,"date":13,"hours":0,"minutes":38,"seconds":14},{"year":2025,"month":6,"date":14,"hours":3,"minutes":55,"seconds":30}],"nice":false},"axis":null},
"y":{"field":"p","type":"quantitative","scale":{"domain":[24113.6,24672.6],"nice":false,"zero":false},"axis":null},
"color":{"condition":[{"test":"datum.name==='stop'","value":"#f23645"},{"test":"datum.name==='entry'","value":"#787b86"}],"value":"#ff9800"}
}},
{"data":{"name":"levels"},"mark":{"type":"text","align":"left","baseline":"middle","font":"Liberation Sans","fontSize":26},
"encoding":{
"x":{"datum":{"year":2025,"month":6,"date":14,"hours":4,"minutes":4,"seconds":57},"type":"temporal","scale":{"domain":[{"year":2025,"month":6,"date":13,"hours":0,"minutes":38,"seconds":14},{"year":2025,"month":6,"date":14,"hours":3,"minutes":55,"seconds":30}],"nice":false},"axis":null},
"y":{"field":"p","type":"quantitative","scale":{"domain":[24113.6,24672.6],"nice":false,"zero":false},"axis":null},
"text":{"field":"p","type":"quantitative","format":",.1f"},
"color":{"condition":{"test":"datum.name==='poc'","value":"#131722"},"value":"#ffffff"}
}},
{"data":{"name":"bars"},"transform":[{"filter":{"field":"t","timeUnit":"yearmonthdatehoursminutes","equal":{"year":2025,"month":6,"date":14,"hours":3,"minutes":45}}}],"mark":{"type":"point","filled":true,"opacity":1,"fill":"#ffffff","stroke":"#f23645","strokeWidth":2,"size":5041,"shape":"M-1,-0.4648H1V0.4648H-1Z"},
"encoding":{
"x":{"datum":{"year":2025,"month":6,"date":14,"hours":4,"minutes":17,"seconds":18},"type":"temporal","scale":{"domain":[{"year":2025,"month":6,"date":13,"hours":0,"minutes":38,"seconds":14},{"year":2025,"month":6,"date":14,"hours":3,"minutes":55,"seconds":30}],"nice":false},"axis":null},
"y":{"field":"v","type":"quantitative","scale":{"domain":[0,10207],"nice":false},"axis":null}
}},
{"data":{"name":"bars"},"transform":[{"filter":{"field":"t","timeUnit":"yearmonthdatehoursminutes","equal":{"year":2025,"month":6,"date":14,"hours":3,"minutes":45}}}],"mark":{"type":"text","align":"center","baseline":"middle","font":"Liberation Sans","fontSize":26,"color":"#f23645"},
"encoding":{
"x":{"datum":{"year":2025,"month":6,"date":14,"hours":4,"minutes":17,"seconds":18},"type":"temporal","scale":{"domain":[{"year":2025,"month":6,"date":13,"hours":0,"minutes":38,"seconds":14},{"year":2025,"month":6,"date":14,"hours":3,"minutes":55,"seconds":30}],"nice":false},"axis":null},
"y":{"field":"v","type":"quantitative","scale":{"domain":[0,10207],"nice":false},"axis":null},
"text":{"field":"v","type":"quantitative","format":"d"}
}},
{"data":{"name":"currency"},"mark":{"type":"point","filled":true,"opacity":1,"fill":"#ffffff","stroke":"#e0e3eb","strokeWidth":1.5,"size":14884,"shape":"M-0.902,-0.3934H0.902A0.098,0.098 0 0 1 1,-0.2954V0.2954A0.098,0.098 0 0 1 0.902,0.3934H-0.902A0.098,0.098 0 0 1 -1,0.2954V-0.2954A0.098,0.098 0 0 1 -0.902,-0.3934Z"},
"encoding":{
"x":{"datum":{"year":2025,"month":6,"date":14,"hours":4,"minutes":36,"seconds":27},"type":"temporal","scale":{"domain":[{"year":2025,"month":6,"date":13,"hours":0,"minutes":38,"seconds":14},{"year":2025,"month":6,"date":14,"hours":3,"minutes":55,"seconds":30}],"nice":false},"axis":null},
"y":{"datum":24657.0,"type":"quantitative","scale":{"domain":[24113.6,24672.6],"nice":false,"zero":false},"axis":null}
}},
{"data":{"name":"currency"},"mark":{"type":"text","align":"center","baseline":"middle","font":"Liberation Sans","fontSize":22,"fontWeight":600,"color":"#131722"},
"encoding":{
"x":{"datum":{"year":2025,"month":6,"date":14,"hours":4,"minutes":36,"seconds":27},"type":"temporal","scale":{"domain":[{"year":2025,"month":6,"date":13,"hours":0,"minutes":38,"seconds":14},{"year":2025,"month":6,"date":14,"hours":3,"minutes":55,"seconds":30}],"nice":false},"axis":null},
"y":{"datum":24657.0,"type":"quantitative","scale":{"domain":[24113.6,24672.6],"nice":false,"zero":false},"axis":null},
"text":{"field":"label","type":"nominal"}
}},
{"data":{"name":"heading"},"mark":{"type":"text","align":"left","baseline":"middle","font":"Liberation Sans","fontSize":24,"fontWeight":"bold","color":"#b4b4b4"},
"encoding":{
"x":{"datum":{"year":2025,"month":6,"date":13,"hours":0,"minutes":49},"type":"temporal","scale":{"domain":[{"year":2025,"month":6,"date":13,"hours":0,"minutes":38,"seconds":14},{"year":2025,"month":6,"date":14,"hours":3,"minutes":55,"seconds":30}],"nice":false},"axis":null},
"y":{"datum":24657.9,"type":"quantitative","scale":{"domain":[24113.6,24672.6],"nice":false,"zero":false},"axis":null},
"text":{"field":"label","type":"nominal"}
}},
{"data":{"name":"currency"},"mark":{"type":"rule","color":"#2a2e39","strokeWidth":2},
"encoding":{
"y":{"datum":24113.6,"type":"quantitative","scale":{"domain":[24113.6,24672.6],"nice":false,"zero":false},"axis":null}
}}
]
},
{
"width":2590,"height":180,
"resolve":{"scale":{"x":"independent","y":"independent"}},
"layer":[
{"data":{"name":"bars"},"mark":{"type":"line","color":"#2a2e39","strokeWidth":2},
"encoding":{
"x":{"field":"t","type":"temporal","scale":{"domain":[{"year":2025,"month":6,"date":13,"hours":0,"minutes":38,"seconds":14},{"year":2025,"month":6,"date":14,"hours":3,"minutes":55,"seconds":30}],"nice":false},
"axis":{"orient":"bottom","title":null,"grid":true,"labelPadding":10,
"labelExpr":"hours(datum.value)===0 && minutes(datum.value)===0 ? '' : timeFormat(datum.value,'%H:%M')",
"values":[{"year":2025,"month":6,"date":13,"hours":1,"minutes":30},{"year":2025,"month":6,"date":13,"hours":3,"minutes":0},{"year":2025,"month":6,"date":13,"hours":4,"minutes":30},{"year":2025,"month":6,"date":13,"hours":6,"minutes":0},{"year":2025,"month":6,"date":13,"hours":7,"minutes":30},{"year":2025,"month":6,"date":13,"hours":9,"minutes":0},{"year":2025,"month":6,"date":13,"hours":10,"minutes":30},{"year":2025,"month":6,"date":13,"hours":12,"minutes":0},{"year":2025,"month":6,"date":13,"hours":13,"minutes":30},{"year":2025,"month":6,"date":13,"hours":15,"minutes":0},{"year":2025,"month":6,"date":13,"hours":16,"minutes":30},{"year":2025,"month":6,"date":13,"hours":18,"minutes":0},{"year":2025,"month":6,"date":13,"hours":19,"minutes":30},{"year":2025,"month":6,"date":13,"hours":21,"minutes":0},{"year":2025,"month":6,"date":13,"hours":22,"minutes":30},{"year":2025,"month":6,"date":14,"hours":0,"minutes":0},{"year":2025,"month":6,"date":14,"hours":1,"minutes":30},{"year":2025,"month":6,"date":14,"hours":3,"minutes":0}]}},
"y":{"field":"ind","type":"quantitative","scale":{"domain":[56669,68045],"nice":false,"zero":false},
"axis":{"orient":"right","title":null,"grid":true,"labelPadding":13,"format":",d","values":[60000,64000]}}
}},
{"data":{"name":"bars"},"transform":[{"filter":{"field":"t","timeUnit":"yearmonthdatehoursminutes","equal":{"year":2025,"month":6,"date":14,"hours":3,"minutes":45}}}],"mark":{"type":"point","filled":true,"opacity":1,"fill":"#ffffff","stroke":"#131722","strokeWidth":2,"size":12100,"shape":"M-1,-0.2909H1V0.2909H-1Z"},
"encoding":{
"x":{"datum":{"year":2025,"month":6,"date":14,"hours":4,"minutes":29,"seconds":36},"type":"temporal","scale":{"domain":[{"year":2025,"month":6,"date":13,"hours":0,"minutes":38,"seconds":14},{"year":2025,"month":6,"date":14,"hours":3,"minutes":55,"seconds":30}],"nice":false},
"axis":{"orient":"bottom","title":null,"grid":false,"labelPadding":10,"labelFontWeight":"bold","labelExpr":"timeFormat(datum.value,'%d')","values":[{"year":2025,"month":6,"date":14,"hours":0,"minutes":0}]}},
"y":{"field":"ind","type":"quantitative","scale":{"domain":[56669,68045],"nice":false,"zero":false},"axis":null}
}},
{"data":{"name":"bars"},"transform":[{"filter":{"field":"t","timeUnit":"yearmonthdatehoursminutes","equal":{"year":2025,"month":6,"date":14,"hours":3,"minutes":45}}}],"mark":{"type":"text","align":"center","baseline":"middle","font":"Liberation Sans","fontSize":26,"color":"#131722"},
"encoding":{
"x":{"datum":{"year":2025,"month":6,"date":14,"hours":4,"minutes":29,"seconds":36},"type":"temporal","scale":{"domain":[{"year":2025,"month":6,"date":13,"hours":0,"minutes":38,"seconds":14},{"year":2025,"month":6,"date":14,"hours":3,"minutes":55,"seconds":30}],"nice":false},"axis":null},
"y":{"field":"ind","type":"quantitative","scale":{"domain":[56669,68045],"nice":false,"zero":false},"axis":null},
"text":{"field":"ind","type":"quantitative","format":",d"}
}}
]
}
]
}
